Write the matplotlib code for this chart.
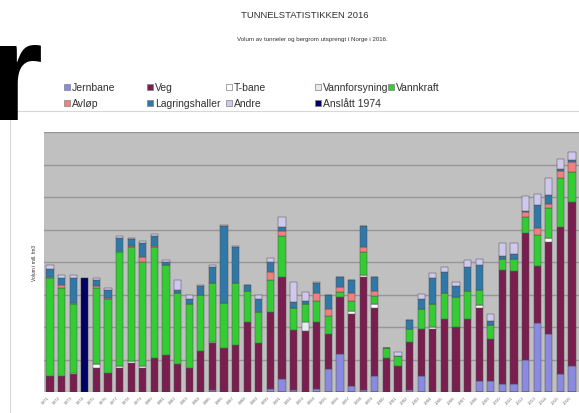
import numpy as np
import matplotlib.pyplot as plt
from matplotlib.patches import Rectangle

plt.rcParams['font.family'] = ['Liberation Sans', 'DejaVu Sans']

years = list(range(1971, 2017))

# volum per kategori (les av fra figuren, enhet = en rutelinje)
jernbane = [0, 0, 0, 0, 0, 0, 0, 0, 0, 0, 0, 0, 0, 0, 0.05, 0,
            0, 0, 0, 0.1, 0.4, 0.05, 0, 0.1, 0.7, 1.17, 0.2, 0.05, 0.5, 0,
            0, 0.05, 0.5, 0, 0, 0, 0, 0.35, 0.35, 0.25, 0.25, 0.97, 2.13, 1.79, 0.55, 0.8]
veg = [0.5, 0.5, 0.55, 0, 0.75, 0.6, 0.75, 0.9, 0.75, 1.05, 1.15, 0.85, 0.75, 1.25, 1.45, 1.35,
       1.45, 2.15, 1.5, 2.35, 3.15, 1.85, 1.87, 2.05, 1.1, 1.76, 2.2, 3.5, 2.1, 1.05,
       0.8, 1.5, 1.45, 1.95, 2.25, 2.0, 2.25, 2.25, 1.27, 3.5, 3.47, 3.91, 1.75, 2.83, 4.53, 5.05]
tbane = [0, 0, 0, 0, 0.1, 0, 0.05, 0.05, 0.05, 0, 0, 0, 0, 0, 0.05, 0,
         0, 0, 0, 0, 0, 0, 0, 0, 0, 0, 0.1, 0.05, 0.1, 0,
         0, 0, 0, 0.05, 0, 0, 0, 0.08, 0, 0, 0, 0, 0, 0.13, 0, 0]
vannforsyning = [0, 0, 0.05, 0, 0, 0, 0, 0, 0, 0, 0, 0, 0, 0, 0, 0,
                 0, 0, 0, 0, 0, 0, 0.27, 0, 0, 0, 0, 0, 0, 0,
                 0, 0, 0, 0, 0, 0, 0, 0, 0, 0, 0, 0, 0, 0, 0, 0]
vannkraft = [3.0, 2.7, 2.1, 0, 2.35, 2.25, 3.5, 3.5, 3.2, 3.4, 2.75, 2.2, 1.95, 1.75, 1.8, 1.4,
             1.9, 0.95, 0.95, 1.0, 1.25, 0.67, 0.58, 0.65, 0.55, 0.15, 0.3, 0.7, 0.25, 0.3,
             0.3, 0.4, 0.6, 0.72, 0.8, 0.92, 0.85, 0.45, 0.45, 0.35, 0.38, 0.5, 0.95, 0.9, 1.5, 0.93]
avlop = [0.05, 0.1, 0.05, 0, 0.05, 0.05, 0.05, 0.05, 0.15, 0.05, 0, 0, 0, 0, 0, 0,
         0, 0, 0, 0.25, 0.15, 0, 0, 0.25, 0.2, 0.15, 0.25, 0.15, 0.15, 0,
         0, 0, 0, 0, 0, 0, 0, 0, 0, 0, 0, 0.15, 0.22, 0.15, 0.23, 0.3]
lagringshaller = [0.25, 0.2, 0.75, 0, 0.2, 0.25, 0.4, 0.2, 0.45, 0.3, 0.1, 0.1, 0.15, 0.25, 0.5, 2.35,
                  1.1, 0.2, 0.4, 0.3, 0.13, 0.2, 0.08, 0.3, 0.45, 0.32, 0.4, 0.65, 0.45, 0,
                  0, 0.28, 0.3, 0.78, 0.65, 0.33, 0.75, 0.77, 0.13, 0.1, 0.15, 0.05, 0.7, 0.25, 0.05, 0.05]
andre = [0.1, 0.1, 0.1, 0, 0.05, 0.05, 0.05, 0.05, 0.05, 0.05, 0.05, 0.3, 0.12, 0.05, 0.05, 0.05,
         0.05, 0, 0.12, 0.12, 0.3, 0.63, 0.28, 0.03, 0, 0, 0, 0, 0, 0,
         0.14, 0, 0.17, 0.17, 0.15, 0.13, 0.2, 0.2, 0.21, 0.37, 0.35, 0.45, 0.33, 0.52, 0.3, 0.25]
anslatt_1974 = [0, 0, 0, 3.5] + [0] * 42

series = [
    ('Jernbane', jernbane, '#8a8ae0'),
    ('Veg', veg, '#7a1e50'),
    ('T-bane', tbane, '#ffffff'),
    ('Vannforsyning', vannforsyning, '#e4ecec'),
    ('Vannkraft', vannkraft, '#33cc33'),
    ('Avløp', avlop, '#f08080'),
    ('Lagringshaller', lagringshaller, '#2f78a8'),
    ('Andre', andre, '#cfc8ec'),
]

fig = plt.figure(figsize=(5.79, 4.14), dpi=100)
W, H = 579.0, 414.0

# ramme rundt diagrammet
fig.patches.append(Rectangle((10 / W, -0.1), 1.0, (414 - 112) / H + 0.1, transform=fig.transFigure,
                             fill=False, edgecolor='#d8d8d8', linewidth=0.8))

ax = fig.add_axes([44 / W, (414 - 393) / H, (579 - 44) / W, (393 - 133) / H])
ax.set_facecolor('#c0c0c0')

x = np.arange(len(years))
bottom = np.zeros(len(years))
for name, vals, col in series:
    vals = np.array(vals)
    ax.bar(x, vals, 0.62, bottom=bottom, color=col, edgecolor='#505050', linewidth=0.35, zorder=3)
    bottom += vals
ax.bar(x, anslatt_1974, 0.62, color='#000066', edgecolor='#303030', linewidth=0.35, zorder=3)

ax.set_xlim(-0.52, 45.6)
ax.set_ylim(0, 8)
ax.set_yticks(np.arange(0, 9, 1))
ax.yaxis.grid(True, color='#969696', linewidth=1.0, zorder=0)
ax.tick_params(axis='y', length=0, labelleft=False)
ax.set_xticks(x)
ax.set_xticklabels([str(y) for y in years], rotation=45, fontsize=3.2, color='#707070', ha='right')
ax.tick_params(axis='x', length=0, pad=2)
for s in ax.spines.values():
    s.set_visible(False)
ax.set_ylabel('Volum i mill. fm3', fontsize=3.5, color='#303030', labelpad=5)

fig.text(305 / W, 1 - 16 / H, 'TUNNELSTATISTIKKEN 2016', ha='center', va='center',
         fontsize=6.8, color='#303030')
fig.text(312 / W, 1 - 40 / H, 'Volum av tunneler og bergrom utsprengt i Norge i 2016.',
         ha='center', va='center', fontsize=4.4, color='#303030')

# forklaring
legend_pos = [(67, 88), (150, 88), (229, 88), (318, 88), (391, 88),
              (67, 104), (150, 104), (229, 104)]
for (name, vals, col), (lx, ly) in zip(series, legend_pos):
    fig.patches.append(Rectangle(((lx - 3) / W, 1 - (ly + 3) / H), 6 / W, 6 / H,
                                 transform=fig.transFigure, facecolor=col,
                                 edgecolor='#808080', linewidth=0.5))
    fig.text((lx + 5) / W, 1 - ly / H, name, ha='left', va='center', fontsize=7.5, color='#303030')
fig.patches.append(Rectangle(((318 - 3) / W, 1 - (104 + 3) / H), 6 / W, 6 / H,
                             transform=fig.transFigure, facecolor='#000066',
                             edgecolor='#808080', linewidth=0.5))
fig.text((318 + 5) / W, 1 - 104 / H, 'Anslått 1974', ha='left', va='center', fontsize=7.5, color='#303030')

# stor bokstav oppe til venstre
fig.text(-11 / W, 1 - 84 / H, 'r', ha='left', va='center', fontsize=100, fontweight='bold', color='black')

fig.savefig('out.png', dpi=100)
